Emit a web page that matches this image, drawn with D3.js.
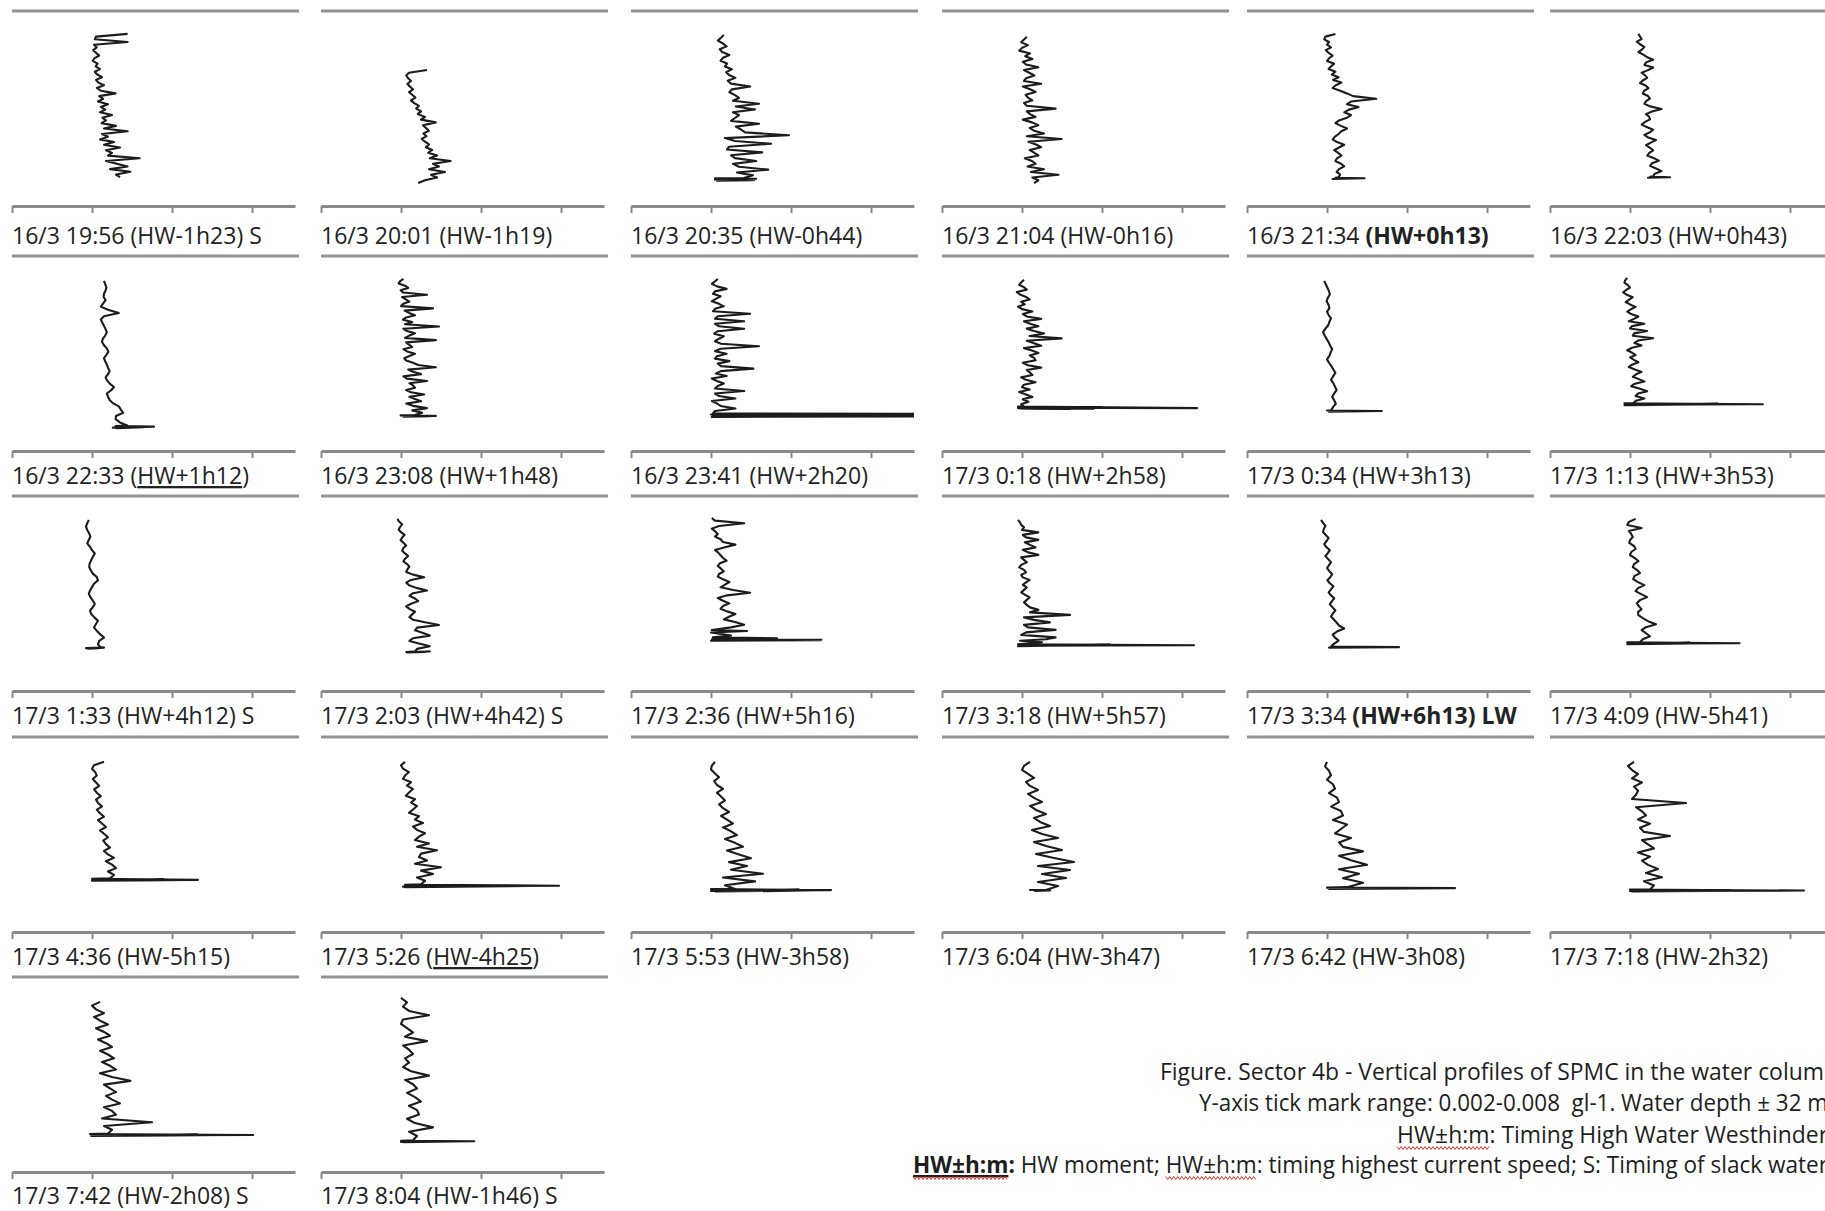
<!DOCTYPE html>
<meta charset="utf-8">
<style>
  body { margin: 0; background: #fff; overflow: hidden; }
  svg { display: block; }
  .lbl { font-family: "Open Sans", sans-serif; font-size: 23px; fill: #222; white-space: pre; }
  .cap { font-family: "Liberation Sans Narrow", "Open Sans", sans-serif; font-size: 24px; fill: #1e1e1e; white-space: pre; }
  .axis path, .axis line { stroke: #8a8a8a; }
  .axis path { stroke-width: 3px; }
  .axis line { stroke-width: 2px; }
  .rule { stroke: #939393; stroke-width: 3px; }
  .profile { fill: none; stroke: #1c1c1c; stroke-width: 2.1px; stroke-linejoin: round; }
</style>
<body>
<script src="https://d3js.org/d3.v7.min.js"></script>
<script>

// panel titles (**bold**, __underlined__)
var labels = [
  "16/3 19:56 (HW-1h23) S", "16/3 20:01 (HW-1h19)", "16/3 20:35 (HW-0h44)",
  "16/3 21:04 (HW-0h16)", "16/3 21:34 **(HW+0h13)**", "16/3 22:03 (HW+0h43)",
  "16/3 22:33 (__HW+1h12__)", "16/3 23:08 (HW+1h48)", "16/3 23:41 (HW+2h20)",
  "17/3 0:18 (HW+2h58)", "17/3 0:34 (HW+3h13)", "17/3 1:13 (HW+3h53)",
  "17/3 1:33 (HW+4h12) S", "17/3 2:03 (HW+4h42) S", "17/3 2:36 (HW+5h16)",
  "17/3 3:18 (HW+5h57)", "17/3 3:34 **(HW+6h13) LW**", "17/3 4:09 (HW-5h41)",
  "17/3 4:36 (HW-5h15)", "17/3 5:26 (__HW-4h25__)", "17/3 5:53 (HW-3h58)",
  "17/3 6:04 (HW-3h47)", "17/3 6:42 (HW-3h08)", "17/3 7:18 (HW-2h32)",
  "17/3 7:42 (HW-2h08) S", "17/3 8:04 (HW-1h46) S"
];

// concentration axis ticks (mg/l = 0.002 .. 0.008 g/l)
var ticks = [2, 4, 6, 8];

// depth (m) of first and last sample of each cast
var topDepth = [4.7, 12.1, 4.9, 5.3, 4.7, 4.7,
                5.1, 4.7, 4.7, 4.9, 5.1, 4.5,
                4.9, 4.7, 4.5, 4.9, 4.9, 4.7,
                5.1, 5.1, 5.1, 5.1, 5.1, 5.1,
                5.1, 4.3];
var bedDepth = [34.1, 35.3, 34.3, 35.3, 34.1, 33.9,
                34.8, 32.6, 32.3, 30.9, 31.7, 30.2,
                31.1, 31.9, 27.5, 29.0, 30.9, 30.0,
                29.0, 30.2, 31.2, 31.4, 30.8, 31.3,
                32.1, 33.5];

// SPMC profiles, mg/l, surface to bed
var p01 = [4.89,4.1,4.07,4.89,4.05,4.12,4.03,4.1,4.18,4.06,4.02,4.14,4.09,4.2,4.07,4.13,4.25,4.1,4.16,4.3,4.12,4.22,4.59,4.18,4.28,4.15,4.4,4.22,4.33,4.2,4.5,4.26,4.35,4.24,4.6,4.3,4.89,4.25,4.4,4.2,4.55,4.3,4.7,4.35,4.5,4.4,5.19,4.35,4.62,4.89,4.45,4.96,4.6,4.7];
var p02 = [4.65,4.2,4.13,4.18,4.25,4.16,4.22,4.3,4.2,4.28,4.36,4.25,4.33,4.45,4.38,4.5,4.42,4.6,4.5,4.87,4.55,4.62,4.7,4.56,4.64,4.52,4.6,4.7,4.62,4.78,4.68,4.9,4.72,5.24,4.8,4.95,4.7,5.1,4.75,4.9,4.6,4.43];
var p03 = [4.32,4.25,4.17,4.3,4.39,4.22,4.28,4.46,4.3,4.24,4.4,4.35,4.52,4.38,4.45,4.61,4.42,4.5,4.98,4.52,4.46,4.6,4.7,4.55,5.2,4.62,5.1,4.55,4.7,4.6,4.5,5.2,4.62,4.75,4.85,5.95,4.35,4.6,5.5,4.45,4.4,5.28,4.5,4.6,5.13,4.55,4.7,5.43,4.65,5.05,4.8];
var p04 = [4.12,4.05,3.98,4.15,4.0,3.93,4.2,4.08,4.26,4.02,4.1,4.41,4.05,4.18,4.31,4.1,4.05,4.48,4.02,4.2,4.34,4.09,4.15,4.26,4.05,4.12,4.84,4.12,4.2,4.34,4.02,4.25,4.41,4.19,4.3,4.55,4.12,4.99,4.16,4.35,4.48,4.19,4.3,4.41,4.07,4.25,4.34,4.14,4.55,4.22,4.91,4.26,4.41,4.3];
var p05 = [4.21,3.96,3.93,4.05,4.0,4.1,3.97,4.04,4.14,4.05,4.0,4.18,4.1,4.04,4.21,4.12,4.29,4.15,4.36,4.22,4.14,4.33,4.5,4.65,5.23,4.6,4.5,4.79,4.55,4.43,4.6,4.5,4.3,4.21,4.35,4.5,4.36,4.29,4.2,4.14,4.25,4.43,4.3,4.18,4.28,4.36,4.25,4.21,4.35,4.43,4.3,4.24,4.33,4.29];
var p06 = [4.21,4.25,4.29,4.17,4.25,4.36,4.3,4.21,4.33,4.43,4.58,4.4,4.36,4.58,4.45,4.29,4.38,4.43,4.32,4.25,4.4,4.46,4.35,4.32,4.45,4.5,4.4,4.36,4.5,4.79,4.55,4.4,4.48,4.5,4.38,4.29,4.42,4.58,4.5,4.36,4.45,4.65,4.52,4.4,4.5,4.58,4.48,4.43,4.6,4.72,4.55,4.5,4.65,4.79,4.62,4.58];
var p07 = [4.3,4.33,4.36,4.34,4.3,4.29,4.34,4.28,4.22,4.4,4.67,4.3,4.22,4.26,4.3,4.34,4.37,4.33,4.27,4.25,4.3,4.37,4.41,4.36,4.3,4.33,4.37,4.4,4.44,4.4,4.34,4.38,4.45,4.55,4.48,4.37,4.4,4.44,4.52,4.67,4.72,4.78,4.6,4.59,4.7,4.89];
var p08 = [4.06,3.98,3.94,4.1,4.18,3.99,4.05,4.65,4.03,4.12,4.21,4.06,4.0,4.8,4.09,4.2,4.35,4.13,4.05,4.28,4.1,4.95,4.06,4.15,4.35,4.21,4.1,4.87,4.13,4.2,4.28,4.06,4.15,4.35,4.21,4.08,4.13,4.3,4.43,4.87,4.18,4.3,4.5,4.06,4.15,4.65,4.21,4.3,4.35,4.13,4.25,4.58,4.21,4.35,4.5,4.13,4.3,4.65,4.28,4.53,4.35];
var p09 = [4.17,4.1,4.02,4.15,4.39,4.1,4.05,4.24,4.12,4.02,4.2,4.32,4.1,4.05,4.98,4.17,4.1,4.83,4.1,4.2,4.83,4.17,4.08,4.32,4.2,4.1,4.25,5.2,4.24,4.1,4.39,4.15,4.1,4.46,4.17,4.25,5.06,4.24,4.12,4.39,4.02,4.15,4.32,4.17,4.1,4.83,4.1,4.2,4.61,4.02,4.15,4.24,4.61,4.1,4.05];
var p10 = [4.05,3.98,3.93,4.05,4.12,3.87,3.95,4.1,4.19,3.98,4.07,3.9,4.0,4.26,4.02,4.12,4.48,4.05,4.2,4.41,4.12,4.3,4.55,4.19,4.99,4.12,4.3,4.48,4.05,4.25,4.41,4.19,4.3,4.34,4.02,4.15,4.48,4.12,4.2,4.26,3.98,4.1,4.34,4.05,4.0,4.19,3.93,4.1,4.26,4.02,4.16,3.98,4.05];
var p11 = [3.93,3.97,4.01,4.05,4.07,4.02,3.99,4.04,4.06,4.0,4.04,4.1,4.06,4.03,3.96,3.9,3.94,3.99,4.04,4.08,4.13,4.09,4.06,4.0,4.05,4.11,4.16,4.21,4.15,4.1,4.16,4.2,4.24,4.18,4.13,4.18,4.22,4.15,4.1];
var p12 = [3.93,3.88,3.86,3.95,4.0,3.9,3.83,3.92,4.07,3.98,3.89,4.0,4.14,4.02,3.93,4.03,4.21,4.1,3.97,4.36,4.05,4.0,4.43,4.1,4.07,4.58,4.2,4.11,4.29,4.05,3.93,4.05,4.14,4.0,4.1,4.21,4.05,3.97,4.12,4.29,4.15,4.07,4.22,4.36,4.1,4.03,4.25,4.43,4.2,4.14,4.36,4.15,4.07];
var p13 = [3.92,3.88,3.85,3.88,3.93,3.96,3.92,3.88,3.95,4.0,4.07,4.02,3.98,3.94,3.93,3.97,4.02,4.12,4.15,4.05,4.0,3.95,3.92,3.96,4.02,4.07,4.02,3.95,3.98,4.06,4.15,4.1,4.05,4.12,4.2,4.3,4.18,4.15,4.22];
var p14 = [3.91,3.95,4.03,3.98,3.94,4.0,4.09,4.03,3.99,4.06,4.13,4.06,4.03,4.1,4.18,4.1,4.06,4.15,4.21,4.16,4.13,4.3,4.58,4.25,4.13,4.2,4.38,4.65,4.3,4.21,4.35,4.43,4.25,4.13,4.22,4.35,4.28,4.21,4.3,4.6,4.95,4.4,4.35,4.55,4.72,4.3,4.21,4.45,4.72,4.4,4.35];
var p15 = [4.02,4.1,4.83,4.2,4.02,4.1,4.17,4.1,4.24,4.3,4.61,4.35,4.1,4.18,4.24,4.3,4.39,4.22,4.17,4.25,4.32,4.2,4.17,4.3,4.46,4.35,4.24,4.55,4.98,4.4,4.17,4.3,4.46,4.3,4.24,4.4,4.61,4.45,4.32,4.6,4.83,4.5,4.02];
var p16 = [3.9,3.95,3.98,4.05,4.0,4.41,4.02,4.1,4.41,4.07,4.2,4.34,4.02,4.15,4.41,3.98,4.05,4.12,3.98,3.93,4.05,4.1,3.98,4.02,4.19,4.1,4.02,4.12,4.05,3.98,4.08,4.19,4.12,4.05,4.12,4.2,4.41,4.2,5.2,4.05,4.3,4.7,4.05,4.15,4.84,4.1,3.98,4.84];
var p17 = [3.85,3.9,3.96,3.92,3.9,3.97,4.04,3.99,3.93,3.98,4.07,4.02,3.96,4.03,4.1,4.05,4.0,4.06,4.13,4.08,4.01,4.07,4.16,4.1,4.04,4.1,4.18,4.12,4.07,4.14,4.21,4.15,4.1,4.17,4.24,4.3,4.43,4.25,4.14,4.2,4.29,4.18,4.1];
var p18 = [4.14,3.97,3.93,4.29,3.97,4.03,4.07,4.0,3.98,4.1,4.14,4.03,4.0,4.12,4.21,4.1,4.07,4.18,4.25,4.11,4.08,4.2,4.36,4.2,4.14,4.28,4.43,4.25,4.17,4.22,4.29,4.2,4.21,4.32,4.45,4.65,4.4,4.29,4.4,4.5,4.32,4.25];
var p19 = [4.3,4.05,4.0,4.08,4.12,4.02,4.1,4.18,4.05,4.12,4.22,4.1,4.15,4.25,4.12,4.2,4.3,4.15,4.25,4.35,4.2,4.3,4.4,4.28,4.35,4.45,4.3,4.4,4.55,4.35,4.5,4.6,4.4,4.55,4.45];
var p20 = [4.1,4.0,4.05,4.2,4.1,4.05,4.25,4.15,4.3,4.2,4.12,4.35,4.25,4.4,4.3,4.2,4.45,4.35,4.55,4.3,4.4,4.6,4.45,4.35,4.7,4.4,4.9,4.5,4.45,4.65,4.35,5.0,4.5,4.8,4.4,4.6,4.5];
var p21 = [4.1,4.02,4.0,4.1,4.2,4.08,4.15,4.3,4.15,4.25,4.35,4.2,4.3,4.45,4.25,4.4,4.55,4.3,4.5,4.65,4.35,4.6,4.8,4.4,4.7,5.0,4.45,4.9,4.5,5.3,4.3,5.1,4.35,4.6];
var p22 = [4.2,4.05,4.0,4.15,4.3,4.1,4.2,4.4,4.15,4.3,4.5,4.2,4.35,4.6,4.3,4.45,4.7,4.25,4.5,4.9,4.3,4.6,5.0,4.35,4.8,5.3,4.4,5.2,4.5,5.1,4.4,4.9,4.6];
var p23 = [4.0,3.95,4.05,4.1,4.0,4.15,4.2,4.05,4.25,4.3,4.1,4.35,4.4,4.15,4.5,4.35,4.2,4.6,4.3,4.4,4.9,4.3,4.6,5.0,4.3,4.8,4.4,4.9,4.5];
var p24 = [4.1,3.95,4.05,4.2,4.05,4.3,4.1,4.2,4.15,4.05,5.4,4.15,4.3,4.4,4.2,4.5,4.25,4.35,5.0,4.3,4.45,4.6,4.2,4.5,4.3,4.45,4.7,4.4,4.8,4.35,4.6,4.5];
var p25 = [4.2,4.0,4.1,4.3,4.05,4.2,4.4,4.1,4.3,4.45,4.15,4.35,4.5,4.2,4.4,4.55,4.25,4.45,4.6,4.2,4.5,4.96,4.3,4.45,4.6,4.35,4.5,4.7,4.3,4.5,4.6,4.25,5.5,4.3,4.5,4.4];
var p26 = [4.0,4.15,4.05,4.2,4.7,4.05,4.0,4.15,4.3,4.1,4.65,4.05,4.2,4.3,4.1,4.2,4.05,4.25,4.7,4.1,4.3,4.4,4.15,4.35,4.5,4.2,4.4,4.45,4.15,4.35,4.8,4.2,4.4,4.3];

// near-bed readings after the profile: [mg/l, depth m]
var b01 = [];
var b02 = [];
var b03 = [[4.1,34.3],[5.13,34.4],[4.1,34.6],[5.05,34.7],[4.15,34.8],[5.1,34.6]];
var b04 = [];
var b05 = [[4.21,34.2],[4.94,34.3],[4.14,34.45],[4.79,34.3]];
var b06 = [[4.5,34.0],[5.0,34.1],[4.45,34.2],[4.9,34.05]];
var b07 = [[4.59,34.9],[5.55,35.0],[4.52,35.2],[5.3,35.1],[4.6,35.3]];
var b08 = [[3.99,32.7],[4.87,32.8],[4.06,32.95],[4.8,32.85]];
var b09 = [[9.6,32.35],[4.0,32.5],[9.6,32.6],[4.05,32.75],[9.6,32.9],[4.02,33.0],[9.6,32.8]];
var b10 = [[3.9,30.9],[8.38,31.2],[3.9,31.1],[6.0,31.0],[3.95,31.3],[5.2,31.4],[3.9,31.2],[5.8,31.3],[3.95,31.0],[4.9,31.1]];
var b11 = [[4.0,31.7],[5.37,31.8],[4.05,31.95],[4.6,31.85]];
var b12 = [[3.86,30.2],[7.32,30.4],[3.9,30.5],[6.2,30.3],[3.86,30.6],[5.5,30.5],[3.9,30.3],[6.0,30.4]];
var b13 = [[3.85,31.2],[4.3,31.1],[3.9,31.3],[4.2,31.2]];
var b14 = [[4.13,32.0],[4.72,31.9],[4.15,32.1],[4.6,32.0]];
var b15 = [[4.9,27.7],[4.0,28.0],[4.5,28.6],[4.05,29.0],[5.65,29.2],[4.02,29.4],[6.76,29.5],[4.05,29.6],[5.2,29.45],[4.0,29.7],[6.76,29.6]];
var b16 = [[4.6,29.4],[3.95,29.7],[4.5,30.0],[3.9,30.4],[8.3,30.6],[3.95,30.7],[6.2,30.5],[3.9,30.8],[5.5,30.6],[3.95,30.7],[6.4,30.6]];
var b17 = [[4.1,30.9],[5.8,31.0],[4.05,31.1],[5.4,31.0]];
var b18 = [[3.93,30.0],[6.74,30.2],[3.95,30.3],[5.5,30.1],[3.93,30.4],[6.0,30.2]];
var b19 = [[4.0,29.1],[6.65,29.3],[4.05,29.4],[5.8,29.2],[4.0,29.5],[6.2,29.35]];
var b20 = [[4.1,30.3],[7.95,30.5],[4.1,30.6],[6.5,30.4],[4.05,30.7],[7.2,30.55],[4.1,30.8],[6.0,30.6]];
var b21 = [[4.0,31.2],[7.0,31.4],[4.05,31.5],[6.2,31.3],[4.0,31.6],[6.6,31.5],[4.1,31.7]];
var b22 = [[4.2,31.4],[4.7,31.5],[4.3,31.6]];
var b23 = [[4.0,30.9],[7.2,31.0],[4.05,31.15],[5.8,31.05]];
var b24 = [[4.0,31.3],[8.35,31.5],[4.0,31.6],[6.5,31.4],[4.05,31.7],[7.0,31.55]];
var b25 = [[3.95,32.2],[8.03,32.4],[4.0,32.5],[6.64,32.3],[3.98,32.6],[7.0,32.45]];
var b26 = [[4.0,33.6],[5.83,33.7],[4.0,33.85],[5.34,33.75],[4.05,33.9]];

var profiles = [p01,p02,p03,p04,p05,p06,p07,p08,p09,p10,p11,p12,p13,
                p14,p15,p16,p17,p18,p19,p20,p21,p22,p23,p24,p25,p26];
var bursts = [b01,b02,b03,b04,b05,b06,b07,b08,b09,b10,b11,b12,b13,
              b14,b15,b16,b17,b18,b19,b20,b21,b22,b23,b24,b25,b26];

// caption: segments [text, flags] b=bold u=underline w=spell-check squiggle
var captionLines = [
  [["Figure. Sector 4b - Vertical profiles of SPMC in the water column", ""]],
  [["Y-axis tick mark range: 0.002-0.008  gl-1. Water depth \u00b1 32 m", ""]],
  [["HW\u00b1h:m", "w"], [": Timing High Water Westhinder", ""]],
  [["HW\u00b1h:m", "buw"], [":", "b"], [" HW moment; ", ""], ["HW\u00b1h:m", "w"],
   [": timing highest current speed; S: Timing of slack water", ""]]
];

var colX = [12, 321, 631, 942, 1247, 1550],
    rowY = [11, 256, 496, 737, 977],
    labelGap = [38, 33, 33, 33, 32],
    panelW = 283, panelH = 195;

var svg = d3.select("body").append("svg")
  .attr("width", 1825)
  .attr("height", 1211);
var defs = svg.append("defs");

labels.forEach(function(lab, i) {
  var r = Math.floor(i / 6);
  var x0 = colX[i % 6], t = rowY[r];

  var x = d3.scaleLinear().domain([2, 9.075]).range([x0, x0 + panelW]);
  var y = d3.scaleLinear().domain([0, 40]).range([t, t + panelH]);

  var g = svg.append("g").attr("class", "panel");

  // frame line on top of the plot
  g.append("line")
    .attr("class", "rule")
    .attr("x1", x0).attr("x2", x0 + panelW + 4)
    .attr("y1", y(0)).attr("y2", y(0));

  g.append("g")
    .attr("class", "axis")
    .attr("transform", "translate(0," + y(40) + ")")
    .call(d3.axisBottom(x).tickValues(ticks).tickSize(7).tickSizeOuter(0).tickFormat(""));

  defs.append("clipPath").attr("id", "clip" + i)
    .append("rect")
    .attr("x", x0).attr("y", t)
    .attr("width", panelW).attr("height", panelH);

  var vals = profiles[i];
  var depth = d3.scaleLinear().domain([0, vals.length - 1]).range([topDepth[i], bedDepth[i]]);
  var pts = vals.map(function(v, k) { return [v, depth(k)]; }).concat(bursts[i]);

  g.append("path")
    .datum(pts)
    .attr("class", "profile")
    .attr("clip-path", "url(#clip" + i + ")")
    .attr("d", d3.line()
      .x(function(d) { return x(d[0]); })
      .y(function(d) { return y(d[1]); }));

  var txt = g.append("text")
    .attr("class", "lbl")
    .attr("x", x0)
    .attr("y", y(40) + labelGap[r]);
  lab.split(/(\*\*[^*]+\*\*|__[^_]+__)/).forEach(function(s) {
    if (!s) return;
    var ts = txt.append("tspan");
    if (s.indexOf("**") === 0) {
      ts.text(s.slice(2, -2)).attr("font-weight", "bold");
    } else if (s.indexOf("__") === 0) {
      ts.text(s.slice(2, -2)).attr("text-decoration", "underline");
    } else {
      ts.text(s);
    }
  });
});

// caption, bottom right (runs off the right edge like the original)
var capLeft = [1160, 1199, 1397, 913],
    capRight = [1838, 1828, 1828, 1828],
    capBase = [1080, 1111, 1143, 1173];

captionLines.forEach(function(line, li) {
  var txt = svg.append("text")
    .attr("class", "cap")
    .attr("x", capLeft[li])
    .attr("y", capBase[li])
    .attr("textLength", capRight[li] - capLeft[li])
    .attr("lengthAdjust", "spacingAndGlyphs");
  var marks = [], pos = 0;
  line.forEach(function(seg) {
    var ts = txt.append("tspan").text(seg[0]);
    if (seg[1].indexOf("b") >= 0) ts.attr("font-weight", "bold");
    if (seg[1].indexOf("u") >= 0) ts.attr("text-decoration", "underline");
    if (seg[1].indexOf("w") >= 0) marks.push([pos, pos + seg[0].length - 1]);
    pos += seg[0].length;
  });
  var node = txt.node();
  marks.forEach(function(m) {
    var a = node.getStartPositionOfChar(m[0]).x,
        b = node.getEndPositionOfChar(m[1]).x,
        yy = capBase[li] + 5,
        pts = [], k = 0;
    for (var xx = a; xx <= b; xx += 2) pts.push([xx, yy + (k++ % 2 ? 1.5 : -1.5)]);
    svg.append("path")
      .attr("d", d3.line()(pts))
      .attr("fill", "none")
      .attr("stroke", "#e0302c")
      .attr("stroke-width", 1);
  });
});

</script>
